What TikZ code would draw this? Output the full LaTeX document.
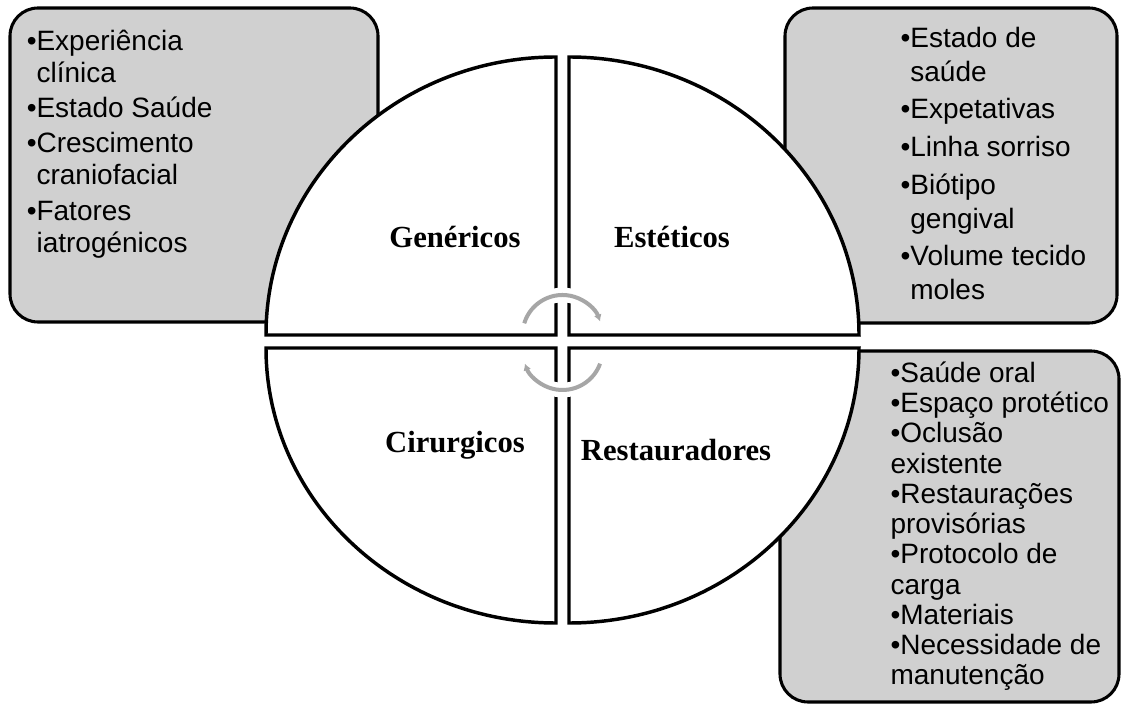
\documentclass[tikz,border=0pt]{standalone}
\usepackage{fontspec}
\setmainfont{Liberation Serif}
\newfontfamily\listfont{Liberation Sans}
\usetikzlibrary{arrows.meta}
\definecolor{boxgray}{RGB}{208,208,208}
\definecolor{arrowgray}{RGB}{166,166,166}

\tikzset{
  infobox/.style={draw=black, line width=2.3pt, fill=boxgray, rounded corners=21pt},
  sector/.style={draw=black, line width=2.6pt, fill=white, line join=miter},
  arcgap/.style={draw=white, line width=11pt},
  cyclearc/.style={draw=arrowgray, line width=3pt, -{Latex[length=5pt,width=6pt]}},
  sectorlabel/.style={font=\fontsize{23}{27}\selectfont\bfseries, inner sep=0pt, anchor=base},
  listtext/.style={inner sep=0pt, anchor=north west}
}

\begin{document}
\begin{tikzpicture}[x=0.75pt,y=0.75pt,yscale=-1,xscale=1]
\useasboundingbox (0,0) rectangle (1121,705);

%Shape: Rounded Rect [id:box1]
\draw [infobox] (10,8) rectangle (378,322) ;
%Shape: Rounded Rect [id:box2]
\draw [infobox] (785,8) rectangle (1117,323) ;
%Shape: Rounded Rect [id:box3]
\draw [infobox] (780,351) rectangle (1119,702) ;

%Shape: Sector [id:upleft]
\draw [sector] (556,335) -- (266,335) arc[start angle=180, end angle=270, x radius=290, y radius=278] -- cycle ;
%Shape: Sector [id:upright]
\draw [sector] (569,335) -- (569,57) arc[start angle=270, end angle=360, x radius=290, y radius=278] -- cycle ;
%Shape: Sector [id:lowleft]
\draw [sector] (556,348) -- (266,348) arc[start angle=180, end angle=90, x radius=290, y radius=275] -- cycle ;
%Shape: Sector [id:lowright]
\draw [sector] (569,348) -- (569,623) arc[start angle=90, end angle=0, x radius=290, y radius=275] -- cycle ;

%Shape: Arc [id:cycletop]
\draw [arcgap] (524.25,323.3) arc[start angle=197, end angle=340, radius=40] ;
\draw [cyclearc] (524.25,323.3) arc[start angle=197, end angle=340, radius=40] ;
%Shape: Arc [id:cyclebottom]
\draw [arcgap] (600.09,363.68) arc[start angle=20, end angle=160, radius=40] ;
\draw [cyclearc] (600.09,363.68) arc[start angle=20, end angle=160, radius=40] ;

% Text Node
\node [sectorlabel] (genericos) at (455,248) {Genéricos};
% Text Node
\node [sectorlabel] (esteticos) at (672,248) {Estéticos};
% Text Node
\node [sectorlabel] (cirurgicos) at (455,453) {Cirurgicos};
% Text Node
\node [sectorlabel] (restauradores) at (676,461) {Restauradores};

% Text Node
\node [listtext] (genlist) at (26.5,27.6) {\listfont\fontsize{21}{24}\selectfont
\begin{tabular}{@{}l@{}l@{}}
•&Experiência\\
&clínica\\[2.5pt]
•&Estado Saúde\\[2.5pt]
•&Crescimento\\
&craniofacial\\[2.5pt]
•&Fatores\\
&iatrogénicos
\end{tabular}};
% Text Node
\node [listtext] (estlist) at (900.3,23.2) {\listfont\fontsize{21}{25.5}\selectfont
\begin{tabular}{@{}l@{}l@{}}
•&Estado de\\
&saúde\\[2.7pt]
•&Expetativas\\[2.7pt]
•&Linha sorriso\\[2.7pt]
•&Biótipo\\
&gengival\\[2.7pt]
•&Volume tecido\\
&moles
\end{tabular}};
% Text Node
\node [listtext] (reslist) at (890.3,360.8) {\listfont\fontsize{21}{22.7}\selectfont
\begin{tabular}{@{}l@{}}
•Saúde oral\\
•Espaço protético\\
•Oclusão\\
existente\\
•Restaurações\\
provisórias\\
•Protocolo de\\
carga\\
•Materiais\\
•Necessidade de\\
manutenção
\end{tabular}};

\end{tikzpicture}
\end{document}
